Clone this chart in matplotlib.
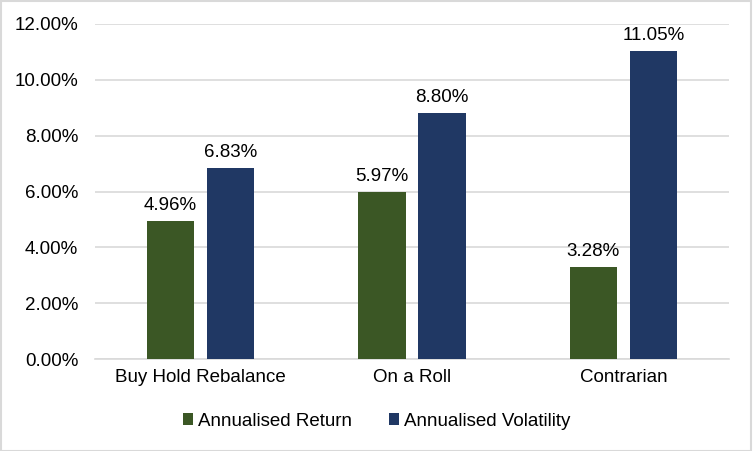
import matplotlib
matplotlib.use("Agg")
import matplotlib.pyplot as plt
import numpy as np
from matplotlib.ticker import FuncFormatter
from matplotlib.patches import Rectangle

categories = ["Buy Hold Rebalance", "On a Roll", "Contrarian"]
annual_return = [4.96, 5.97, 3.28]
annual_vol = [6.83, 8.80, 11.05]
series_names = ["Annualised Return", "Annualised Volatility"]
colors = ["#3B5725", "#203864"]

plt.rcParams['font.family'] = ['Liberation Sans', 'DejaVu Sans']
FS = 13.5

fig = plt.figure(figsize=(7.53, 4.51), dpi=100)
ax = fig.add_axes([95/753, 1-359/451, (729-95)/753, (359-24)/451])

x = np.arange(len(categories))
w = 0.224
off = 0.142
b1 = ax.bar(x - off, annual_return, w, color=colors[0], label=series_names[0], zorder=3)
b2 = ax.bar(x + off, annual_vol, w, color=colors[1], label=series_names[1], zorder=3)

for bars, vals in ((b1, annual_return), (b2, annual_vol)):
    for r, v in zip(bars, vals):
        ax.annotate(f"{v:.2f}%", (r.get_x() + r.get_width()/2, v), xytext=(0, 5),
                    textcoords="offset points", ha="center", va="bottom", fontsize=FS,
                    color="#000000")

ax.set_xlim(-0.5, 2.5)
ax.set_ylim(0, 12)
ax.set_yticks(np.arange(0, 12.01, 2))
ax.yaxis.set_major_formatter(FuncFormatter(lambda v, p: f"{v:.2f}%"))
ax.set_xticks(x)
ax.set_xticklabels(categories)
ax.tick_params(axis='both', length=0, labelsize=FS, colors="#000000")
ax.tick_params(axis='y', pad=12)
ax.tick_params(axis='x', pad=7)
ax.grid(axis='y', color="#D9D9D9", linewidth=1.2, zorder=0)
for s in ["top", "right", "left"]:
    ax.spines[s].set_visible(False)
ax.spines["bottom"].set_color("#D9D9D9")
ax.spines["bottom"].set_linewidth(1.2)

fig.legend(handles=[b1, b2], labels=series_names, loc="center", bbox_to_anchor=(0.5, 1-421/451),
           ncol=2, frameon=False, fontsize=FS, handlelength=0.55, handleheight=0.55,
           handletextpad=0.25, columnspacing=2.0)

fig.patches.append(Rectangle((0.001, 0.001), 0.997, 0.996, transform=fig.transFigure,
                             fill=False, edgecolor="#D9D9D9", linewidth=1.5))

fig.savefig("out.png", dpi=100)
